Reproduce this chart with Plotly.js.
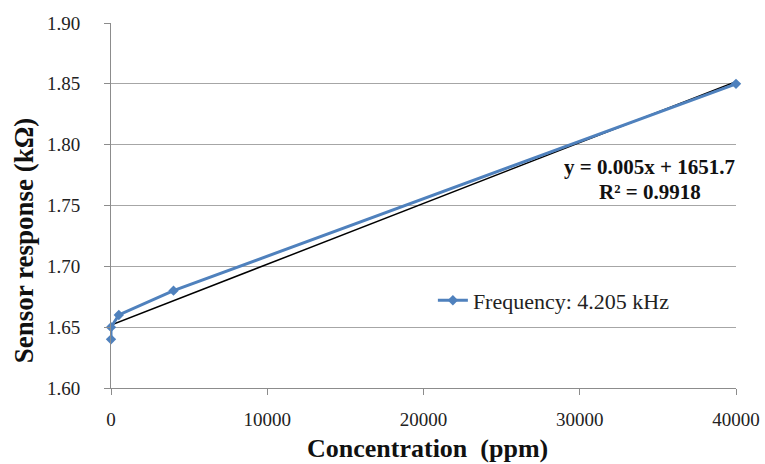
<!DOCTYPE html>
<html>
<head>
<meta charset="utf-8">
<script src="https://cdn.plot.ly/plotly-3.0.1.min.js"></script>
<style>html,body{margin:0;padding:0;background:#fff;}#chart{width:765px;height:464px;}</style>
</head>
<body>
<div id="chart"></div>
<script>
var concentration = [0, 0, 500, 4000, 40000];
var response = [1.64, 1.65, 1.66, 1.68, 1.85];
var trendX = [0, 40000];
var trendY = [1.6517, 1.8517];
var seriesName = "Frequency: 4.205 kHz";
var eqText = "y = 0.005x + 1651.7";
var r2Text = "R² = 0.9918";
var xTitle = "Concentration  (ppm)";
var yTitle = "Sensor response (kΩ)";
var xTicks = [0, 10000, 20000, 30000, 40000];
var yTicks = [1.60, 1.65, 1.70, 1.75, 1.80, 1.85, 1.90];

var font = "'Liberation Serif', 'Times New Roman', serif";

var traces = [
  {
    x: trendX, y: trendY, mode: "lines", type: "scatter",
    line: {color: "#000000", width: 1.5}, showlegend: false, hoverinfo: "skip", cliponaxis: false
  },
  {
    x: concentration, y: response, mode: "lines+markers", type: "scatter",
    name: seriesName, cliponaxis: false,
    line: {color: "#4F81BD", width: 3},
    marker: {symbol: "diamond", size: 8, color: "#4F81BD"}
  }
];

var layout = {
  width: 765, height: 464,
  margin: {l: 111, r: 29, t: 23, b: 76},
  paper_bgcolor: "#ffffff", plot_bgcolor: "#ffffff",
  font: {family: font, color: "#222222"},
  xaxis: {
    range: [0, 40000], tickvals: xTicks, ticktext: xTicks.map(String),
    showgrid: false, zeroline: false, showline: true, linecolor: "#8c8c8c", linewidth: 1,
    ticks: "outside", ticklen: 6, tickcolor: "#8c8c8c", ticklabelstandoff: 8,
    tickfont: {family: font, size: 19, color: "#222222"}
  },
  yaxis: {
    range: [1.6, 1.9], tickvals: yTicks, ticktext: yTicks.map(function(v){return v.toFixed(2);}),
    showgrid: true, gridcolor: "#a6a6a6", gridwidth: 1, zeroline: false,
    showline: true, linecolor: "#8c8c8c", linewidth: 1,
    ticks: "outside", ticklen: 6, tickcolor: "#8c8c8c", ticklabelstandoff: 20,
    tickfont: {family: font, size: 19, color: "#222222"}
  },
  showlegend: true,
  legend: {
    x: 0.515, y: 0.24, xanchor: "left", yanchor: "middle",
    bgcolor: "rgba(255,255,255,0)", font: {family: font, size: 22, color: "#222222"},
    itemwidth: 30
  },
  annotations: [
    {xref: "paper", yref: "paper", x: 0.862, y: 0.605, text: "<b>" + eqText + "</b>", showarrow: false,
     font: {family: font, size: 21, color: "#111111"}, xanchor: "center", yanchor: "middle"},
    {xref: "paper", yref: "paper", x: 0.862, y: 0.537, text: "<b>" + r2Text + "</b>", showarrow: false,
     font: {family: font, size: 21, color: "#111111"}, xanchor: "center", yanchor: "middle"},
    {xref: "paper", yref: "paper", x: 0.507, y: -0.167, text: "<b>" + xTitle + "</b>", showarrow: false,
     font: {family: font, size: 26, color: "#111111"}, xanchor: "center", yanchor: "middle"},
    {xref: "paper", yref: "paper", x: -0.139, y: 0.405, text: "<b>" + yTitle + "</b>", showarrow: false,
     textangle: -90, font: {family: font, size: 27, color: "#111111"}, xanchor: "center", yanchor: "middle"}
  ]
};

Plotly.newPlot("chart", traces, layout, {displayModeBar: false, staticPlot: true});
</script>
</body>
</html>
